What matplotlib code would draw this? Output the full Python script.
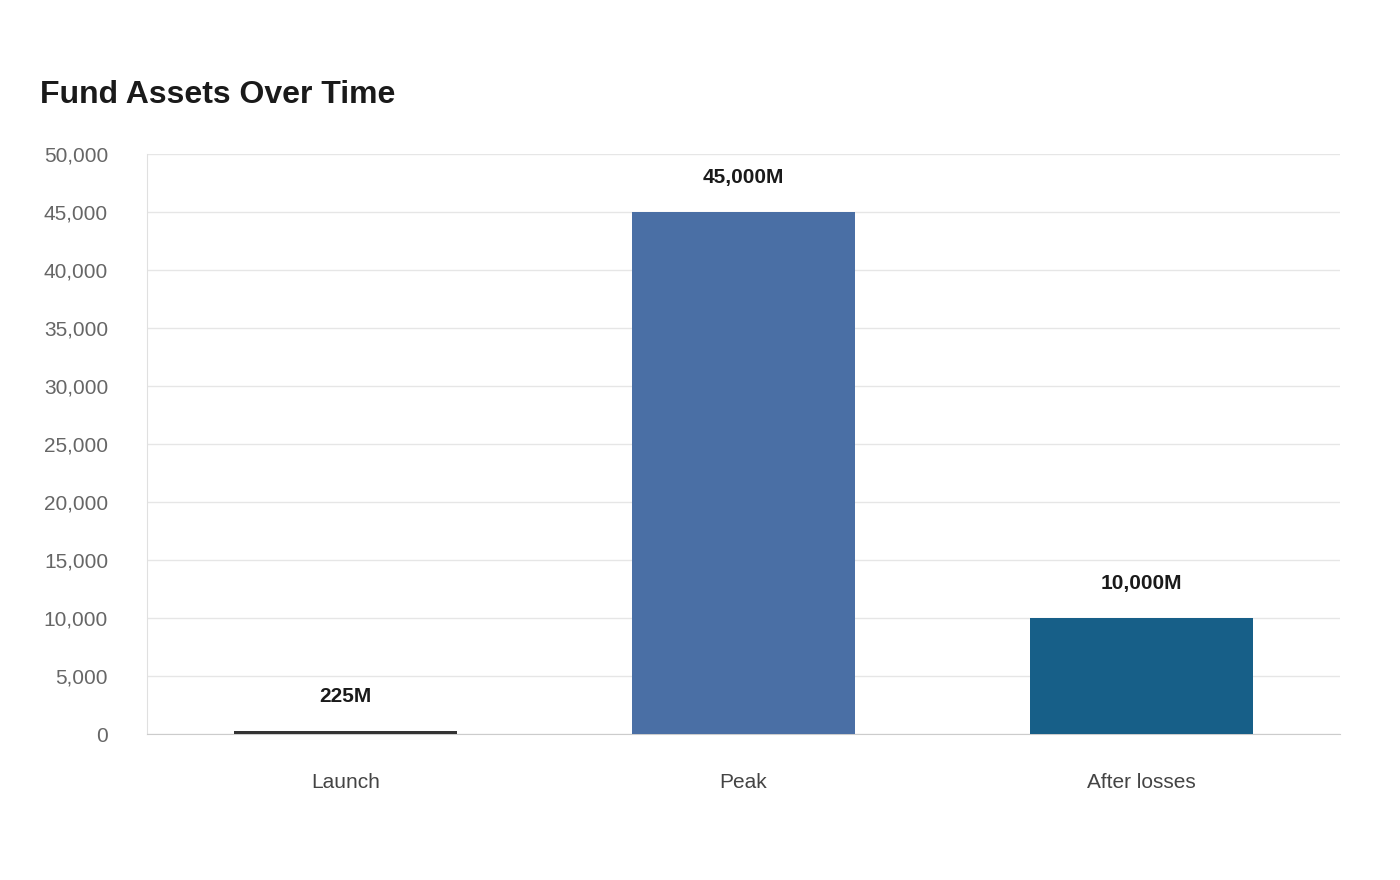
import matplotlib
matplotlib.use("Agg")
import matplotlib.pyplot as plt
from matplotlib.ticker import FuncFormatter

categories = ["Launch", "Peak", "After losses"]
values = [225, 45000, 10000]
labels = ["225M", "45,000M", "10,000M"]
colors = ["#333333", "#4a6fa5", "#175f88"]

plt.rcParams['font.family'] = ['Liberation Sans', 'DejaVu Sans']
fig = plt.figure(figsize=(14, 8.8), dpi=100)
ax = fig.add_axes([147/1400, 1-734/880, (1340-147)/1400, (734-154)/880])
x = range(len(categories))
ax.bar(x, values, width=0.56, color=colors, zorder=3)
for i, v in enumerate(values):
    ax.annotate(labels[i], (i, v), xytext=(0, 18), textcoords="offset points",
                ha="center", va="bottom", fontsize=15, fontweight="bold", color="#1a1a1a")
ax.set_xlim(-0.5, 2.5)
ax.set_ylim(0, 50000)
ax.set_yticks(range(0, 50001, 5000))
ax.yaxis.set_major_formatter(FuncFormatter(lambda v, p: f"{int(v):,}"))
ax.set_xticks(list(x))
ax.set_xticklabels(categories)
ax.grid(axis="y", color="#e6e6e6", linewidth=1, zorder=0)
for s in ["top", "right"]:
    ax.spines[s].set_visible(False)
ax.spines["left"].set_color("#e0e0e0")
ax.spines["bottom"].set_color("#cccccc")
ax.tick_params(axis="y", length=0, labelsize=15, labelcolor="#666666", pad=28)
ax.tick_params(axis="x", length=0, labelsize=15, labelcolor="#444444", pad=28)
fig.text(40/1400, 1-95/880, "Fund Assets Over Time", fontsize=23, fontweight="bold",
         color="#1a1a1a", va="center", ha="left")
fig.savefig("out.png", dpi=100, facecolor="white")
